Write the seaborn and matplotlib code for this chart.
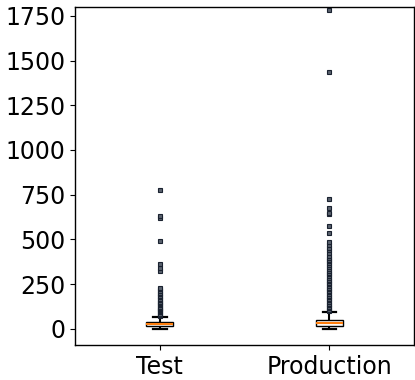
import numpy as np
import pandas as pd
import matplotlib
matplotlib.use("Agg")
import matplotlib.pyplot as plt
import seaborn as sns

categories = ["Test", "Production"]

# Core (box + whisker) values and how many observations sit at each value
test_core_values = [0, 15, 26, 37.5, 65]
test_core_counts = [1, 150, 150, 150, 1]
prod_core_values = [0, 18, 35, 50, 95]
prod_core_counts = [1, 150, 150, 150, 1]

# Outliers
test_outliers = [74, 80, 86, 93, 99, 106, 112, 119, 125, 132, 139, 146, 153, 160,
                 168, 176, 184, 193, 202, 212, 222, 228,
                 325, 340, 365, 490, 618, 632, 775]
prod_outliers = [100, 108, 117, 125, 134, 142, 151, 160, 168, 177, 186, 195, 204,
                 213, 222, 231, 240, 249, 258, 267, 276, 286, 296, 305, 315, 325,
                 336, 346, 357, 368, 378, 386,
                 398, 410, 425, 440, 455, 470, 485,
                 535, 578, 640, 650, 678, 728, 1435, 1780]

rows = []
for cat, vals, cnts, outs in [
    ("Test", test_core_values, test_core_counts, test_outliers),
    ("Production", prod_core_values, prod_core_counts, prod_outliers),
]:
    for v, c in zip(vals, cnts):
        rows += [(cat, v)] * c
    rows += [(cat, v) for v in outs]
df = pd.DataFrame(rows, columns=["env", "value"])

fig = plt.figure(figsize=(4.15, 3.8), dpi=100)
ax = fig.add_axes([0.181, 0.092, 0.817, 0.890])

sns.boxplot(
    data=df, x="env", y="value", order=categories, ax=ax,
    width=0.16, color="white", linecolor="black", linewidth=1.0,
    medianprops=dict(color="#ff7f0e", linewidth=1.5),
    whiskerprops=dict(color="black", linewidth=1.5),
    capprops=dict(color="black", linewidth=1.6),
    flierprops=dict(marker="s", markersize=2.2, markerfacecolor="#5a626e",
                    markeredgecolor="#1a2230", markeredgewidth=0.8),
)

ax.set_ylim(-90, 1800)
ax.set_xlim(-0.5, 1.5)
ax.set_yticks([0, 250, 500, 750, 1000, 1250, 1500, 1750])
ax.set_xlabel("")
ax.set_ylabel("")
ax.tick_params(labelsize=17)
for s in ax.spines.values():
    s.set_color("black")
    s.set_linewidth(1)

fig.savefig("out.png", dpi=100)
